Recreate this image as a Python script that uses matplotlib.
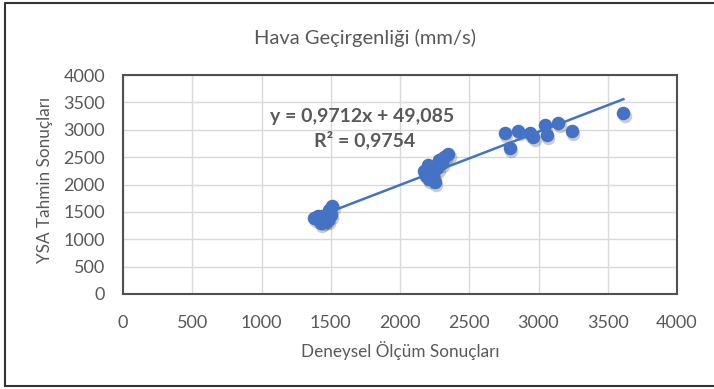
import matplotlib
matplotlib.use("Agg")
import matplotlib.pyplot as plt
from matplotlib.lines import Line2D
import numpy as np

# Data
measured = [1380, 1400, 1420, 1440, 1450, 1460, 1470, 1480, 1500, 1510, 1490, 1430, 1410,
            2170, 2190, 2210, 2230, 2250, 2270, 2300, 2320, 2350, 2200, 2240, 2280,
            2758, 2794, 2854, 2939, 2963, 3047, 3059, 3143, 3239, 3613]
predicted = [1380, 1400, 1350, 1420, 1330, 1370, 1400, 1360, 1450, 1600, 1530, 1300, 1420,
             2250, 2150, 2100, 2200, 2050, 2300, 2400, 2500, 2550, 2350, 2150, 2450,
             2935, 2661, 2983, 2935, 2873, 3087, 2904, 3118, 2983, 3300]
slope = 0.9712
intercept = 49.085
r2 = 0.9754

title = "Hava Geçirgenliği (mm/s)"
xlabel = "Deneysel Ölçüm Sonuçları"
ylabel = "YSA Tahmin Sonuçları"
ticks = [0, 500, 1000, 1500, 2000, 2500, 3000, 3500, 4000]

plt.rcParams['font.family'] = ['Lato', 'DejaVu Sans']
gray = '#595959'
blue = '#4472C4'

fig = plt.figure(figsize=(7.14, 3.89), dpi=100)
ax = fig.add_axes([123/714, 1-294/389, (677-123)/714, (294-75)/389])

# shadow + markers
ax.scatter(np.array(measured)+10, np.array(predicted)-55, s=95, color='#1a1a1a', alpha=0.22,
           linewidths=0, zorder=2)
ax.scatter(measured, predicted, s=95, color=blue, linewidths=0, zorder=3)

xs = np.array([min(measured), max(measured)])
ax.plot(xs, slope*xs + intercept, color=blue, lw=1.8, zorder=4)

ax.set_xlim(0, 4000)
ax.set_ylim(0, 4000)
ax.set_xticks(ticks)
ax.set_yticks(ticks)
ax.grid(True, color='#D9D9D9', lw=1)
ax.set_axisbelow(True)
ax.tick_params(length=0, colors=gray, labelsize=13)
ax.tick_params(axis='x', pad=15)
ax.tick_params(axis='y', pad=13)
for s in ax.spines.values():
    s.set_color('#505050')
    s.set_linewidth(1.5)

fmt = lambda v: f"{v:.4f}".replace('.', ',')
eq = f"y = {fmt(slope)}x + {intercept:.3f}".replace('.', ',')
ax.text(1726, 3251, eq, ha='center', va='center', fontsize=14, fontweight='bold', color=gray)
ax.text(1747, 2813, f"R² = {fmt(r2)}", ha='center', va='center', fontsize=14,
        fontweight='bold', color=gray)

fig.text(365/714, 1-38/389, title, ha='center', va='center', fontsize=14.5, color=gray)
fig.text(400/714, 1-351/389, xlabel, ha='center', va='center', fontsize=12.3, color=gray)
fig.text(45/714, 1-180/389, ylabel, ha='center', va='center', fontsize=12.3, color=gray,
         rotation=90)

# chart area border
fig.add_artist(Line2D([5/714, 5/714, 714/714], [1-386/389, 1-3/389, 1-3/389],
                      transform=fig.transFigure, color='#333333', lw=1.5))
fig.add_artist(Line2D([5/714, 714/714], [1-386/389, 1-386/389],
                      transform=fig.transFigure, color='#333333', lw=1.5))

fig.savefig("out.png", dpi=100)
